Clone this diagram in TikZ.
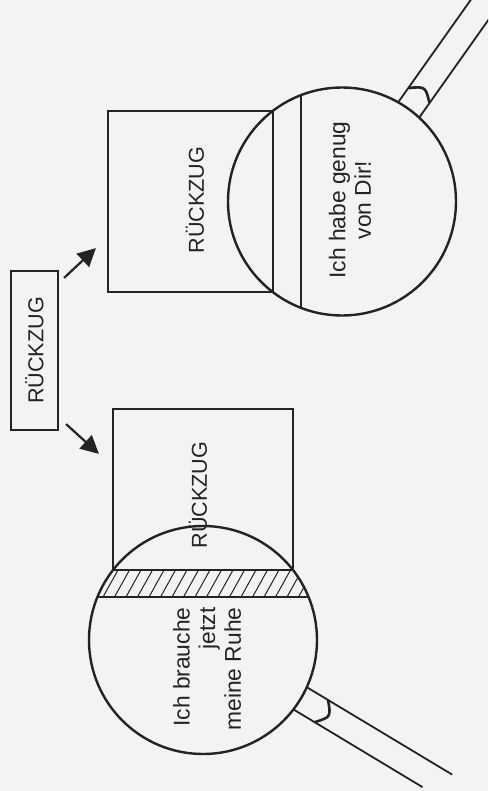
\documentclass[tikz,border=0pt]{standalone}
\usepackage{fontspec}
\setmainfont{Liberation Sans}
\usetikzlibrary{arrows.meta}
\definecolor{paper}{RGB}{243,243,244}
\definecolor{ink}{RGB}{35,35,35}
\tikzset{
  cue/.style={draw=ink, line width=1.1pt, rotate=90, minimum width=79.5pt, minimum height=23.5pt, inner sep=0pt, font=\fontsize{10.8}{12}\selectfont},
  panel/.style={draw=ink, line width=1.1pt, inner sep=0pt},
  boxtext/.style={rotate=90, inner sep=0pt, font=\fontsize{10.8}{12}\selectfont},
  speech/.style={rotate=90, inner sep=0pt},
  lens/.style={draw=ink, circle, line width=1.2pt, minimum size=114pt, inner sep=0pt},
  grip/.style={draw=ink, line width=0.9pt},
  hatch/.style={draw=ink, line width=0.5pt},
  arr/.style={draw=ink, line width=1.1pt, -{Triangle[length=9pt, width=9pt]}}
}
\begin{document}
\begin{tikzpicture}[x=0.5pt, y=-0.5pt, font=\fontsize{11.4}{12.8}\selectfont, text=ink]
  \path[use as bounding box, fill=paper] (0,0) rectangle (488,791);
  \clip (0,0) rectangle (488,791);

  \node[cue] (cue) at (34.5,350.5) {RÜCKZUG};

  \node[panel, minimum width=82.5pt, minimum height=90.5pt] (boxR) at (190.5,201.5) {};
  \node[panel, minimum width=90pt, minimum height=80.5pt] (boxL) at (203,489.5) {};
  \node[boxtext] (wordR) at (195,200) {RÜCKZUG};
  \node[boxtext] (wordL) at (198,495) {RÜCKZUG};

  \draw[arr] ([shift={(5,8)}]cue.south east) -- ([shift={(-11,-45)}]boxR.south west);
  \draw[arr] ([shift={(7,-7)}]cue.south west) -- ([shift={(-13,46)}]boxL.north west);

  \node[lens] (lensR) at (342,201.5) {};
  \draw[panel] (301,95.1) -- (301,307.9);
  \node[speech, align=center] (sayR) at (350,200) {Ich habe genug\\von Dir!};
  \draw[grip] (398.1,102.4) -- (477.1,-9.1);
  \draw[grip] (419.2,117.6) -- (498.3,5.9);
  \draw[grip, line width=1.3pt] (408.3,88.0) .. controls (425.5,86.5) .. (429.5,103.0);

  \node[lens] (lensL) at (203,640) {};
  \draw[panel] (97.4,597) -- (308.6,597);
  \begin{scope}
    \clip (203,640) circle[radius=57pt];
    \clip (80,570) rectangle (330,597);
    \foreach \x in {80,91.5,...,320}
      \draw[hatch] (\x,597) -- ++(15,-27);
  \end{scope}
  \node[speech, align=right] (sayL) at (207,669) {Ich brauche\\jetzt\\meine Ruhe};
  \draw[grip] (306.8,687.2) -- (452.2,774.6);
  \draw[grip] (293.4,709.4) -- (422.5,787.1);
  \draw[grip, line width=1.3pt] (328,700) .. controls (331,717) .. (314.6,722.2);
\end{tikzpicture}
\end{document}
